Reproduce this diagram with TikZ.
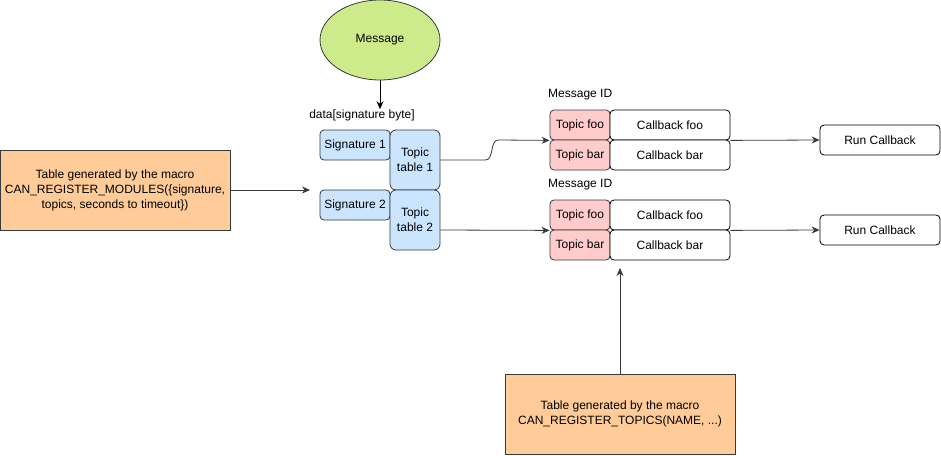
\documentclass[tikz,border=0pt]{standalone}
\usepackage{fontspec}
\setmainfont{Liberation Sans}
\usetikzlibrary{arrows.meta,shapes.geometric}

\definecolor{strokegray}{RGB}{54,57,61}
\definecolor{msggreen}{RGB}{205,235,139}
\definecolor{sigblue}{RGB}{204,229,255}
\definecolor{topicpink}{RGB}{255,204,204}
\definecolor{macroorange}{RGB}{255,204,153}

\tikzset{
  box/.style={draw=strokegray, line width=0.8pt, inner sep=0pt, align=center,
    font=\fontsize{12}{15}\selectfont},
  msgshape/.style={box, ellipse, fill=msggreen, minimum width=120pt, minimum height=80pt},
  sigbox/.style={box, rounded corners=4pt, fill=sigblue, minimum width=70pt, minimum height=30pt},
  tablebox/.style={box, rounded corners=6pt, fill=sigblue, minimum width=50pt, minimum height=60pt},
  topicbox/.style={box, rounded corners=4pt, fill=topicpink, minimum width=60pt, minimum height=30pt},
  cbbox/.style={box, rounded corners=4pt, fill=white, draw=black, minimum width=120pt, minimum height=30pt},
  macrobox/.style={box, fill=macroorange, minimum width=230pt, minimum height=80pt},
  lbl/.style={inner sep=0pt, font=\fontsize{12}{15}\selectfont},
  edge/.style={draw=strokegray, line width=0.8pt, -{Stealth[length=8pt,width=7pt]}}
}

\begin{document}
\begin{tikzpicture}[x=1pt,y=1pt,yscale=-1,xscale=1]
\useasboundingbox (0,0) rectangle (941,455);

%Shape: Ellipse
\node (msg) at (380,40) [msgshape] {Message};
% Text Node
\node (sigbyte) at (362,115) [lbl] {data[signature byte]};

%Shape: Signatures and topic tables
\node (sig1) at (355,145) [sigbox] {Signature 1};
\node (tab1) at (415,160) [tablebox] {Topic\\table 1};
\node (sig2) at (355,205) [sigbox] {Signature 2};
\node (tab2) at (415,220) [tablebox] {Topic\\table 2};

%Shape: Macro boxes
\node (macmod) at (115,190) [macrobox] {Table generated by the macro\\CAN\_REGISTER\_MODULES(\{signature,\\topics, seconds to timeout\})};
\node (mactop) at (620,414) [macrobox] {Table generated by the macro\\CAN\_REGISTER\_TOPICS(NAME, ...)};

% Text Node
\node (mid1) at (548,95) [lbl, anchor=west] {Message ID};
\node (mid2) at (548,185) [lbl, anchor=west] {Message ID};

%Shape: Topic rows
\node (foo1) at (580,125) [topicbox] {Topic foo};
\node (cbfoo1) at (670,125) [cbbox] {Callback foo};
\node (bar1) at (580,155) [topicbox] {Topic bar};
\node (cbbar1) at (670,155) [cbbox] {Callback bar};
\node (foo2) at (580,215) [topicbox] {Topic foo};
\node (cbfoo2) at (670,215) [cbbox] {Callback foo};
\node (bar2) at (580,245) [topicbox] {Topic bar};
\node (cbbar2) at (670,245) [cbbox] {Callback bar};

%Shape: Run boxes
\node (run1) at (880,140) [cbbox] {Run Callback};
\node (run2) at (880,230) [cbbox] {Run Callback};

% free ends
\coordinate (sigin) at (310,190);
\coordinate (topicin) at (620,268);

%Straight Lines
\draw [edge, draw=black] (msg.south) -- (msg.south |- sigbyte.north);
\draw [edge] (macmod.east) -- (sigin);
\draw [edge] (tab1.east) -- ++(45,0) .. controls +(9,0) and +(-9,0) .. ++(13,-20) -- (foo1.south west);
\draw [edge] ([yshift=10pt]tab2.east) -- (foo2.south west);
\draw [edge] (cbfoo1.south east) -- (run1.west);
\draw [edge] (cbfoo2.south east) -- (run2.west);
\draw [edge] (mactop.north) -- (topicin);

\end{tikzpicture}
\end{document}
